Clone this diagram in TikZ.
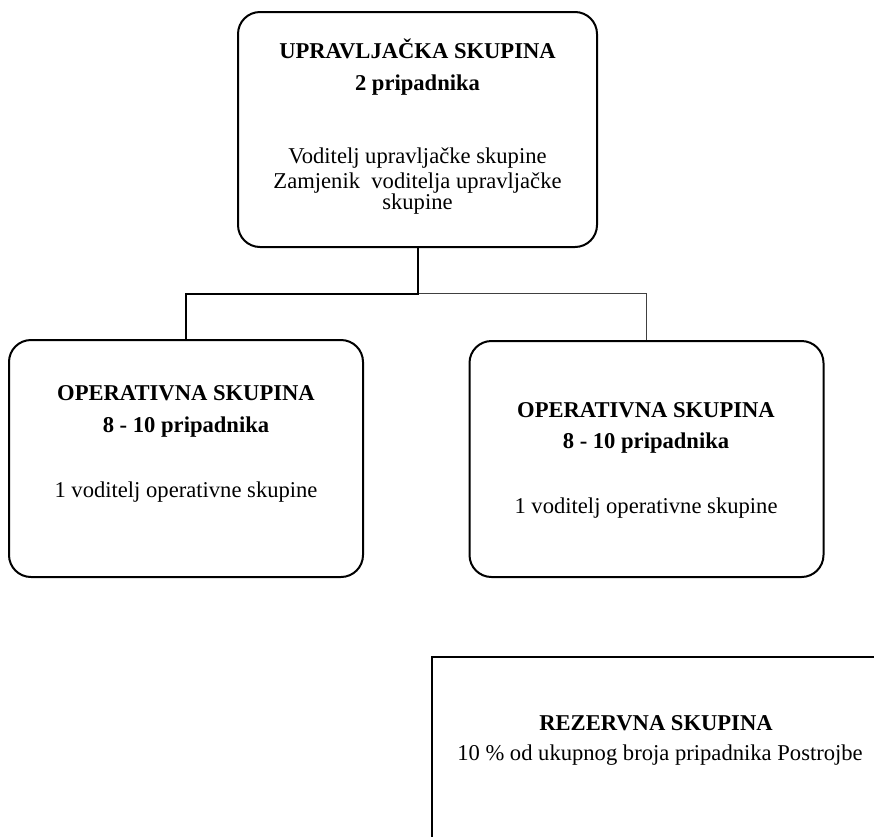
\documentclass[tikz,border=0pt]{standalone}
\usepackage{fontspec}
\setmainfont{Liberation Serif}
\begin{document}
\begin{tikzpicture}[x=1pt,y=-1pt,
  rbox/.style={draw,line width=2pt,rounded corners=22pt,inner sep=0pt},
  sbox/.style={draw,line width=2pt,inner sep=0pt},
  conn/.style={line width=2pt},
  thinconn/.style={line width=1.1pt,black!75},
  ttl/.style={anchor=base,inner sep=0pt,font=\fontsize{22.6}{26}\selectfont\bfseries},
  txt/.style={anchor=base,inner sep=0pt,font=\fontsize{22.6}{26}\selectfont}]
\useasboundingbox (0,0) rectangle (874,836);
\clip (0,0) rectangle (874,836);
% boxes
\node[rbox,minimum width=359pt,minimum height=235pt] (top) at (417.5,129.5) {};
\node[rbox,minimum width=354pt,minimum height=237pt] (left) at (186,458.5) {};
\node[rbox,minimum width=354pt,minimum height=236pt] (right) at (646.5,459) {};
\node[sbox,minimum width=468pt,minimum height=203pt] (res) at (666,758.5) {};
% top texts
\node[ttl] (t1) at (417.5,58) {UPRAVLJAČKA SKUPINA};
\node[ttl] (t2) at (417.5,90) {2 pripadnika};
\node[txt] (t3) at (417.5,163) {Voditelj upravljačke skupine};
\node[txt] (t4) at (417.5,188) {Zamjenik\ \ voditelja upravljačke};
\node[txt] (t5) at (417.5,209) {skupine};
% left texts
\node[ttl] (l1) at (186,400) {OPERATIVNA SKUPINA};
\node[ttl] (l2) at (186,432) {8 - 10 pripadnika};
\node[txt] (l3) at (186,497) {1 voditelj operativne skupine};
% right texts
\node[ttl] (r1) at (646,417) {OPERATIVNA SKUPINA};
\node[ttl] (r2) at (646,448) {8 - 10 pripadnika};
\node[txt] (r3) at (646,513) {1 voditelj operativne skupine};
% reserve texts
\node[ttl] (s1) at (656,730) {REZERVNA SKUPINA};
\node[txt] (s2) at (660,760) {10 \% od ukupnog broja pripadnika Postrojbe};
% connectors
\coordinate (j) at (417.5,293.5);
\draw[thinconn] (j) -| (right.north);
\draw[conn] (top.south) -- (j) -| (left.north);
\end{tikzpicture}
\end{document}
